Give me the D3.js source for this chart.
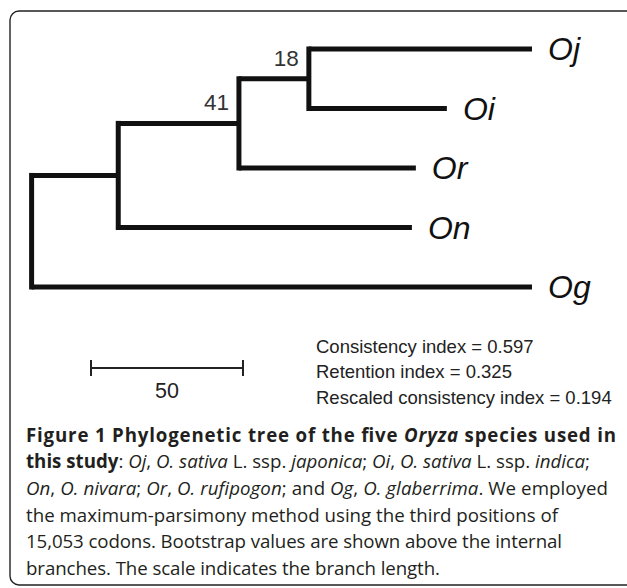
<!DOCTYPE html>
<html>
<head>
<meta charset="utf-8">
<script src="https://cdn.jsdelivr.net/npm/d3@7"></script>
<style>
    html, body { margin: 0; padding: 0; background: #fff; }
    svg { display: block; }
</style>
</head>
<body>
<svg id="viz_tree"></svg>
<script>
// tree: node names, parent of each node, branch length to parent
var nodeNames = ["root", "A", "B", "C", "Oj", "Oi", "Or", "On", "Og"];
var parentNames = [null, "root", "A", "B", "C", "C", "B", "A", "root"];
var branchLengths = [0, 28.5, 39.7, 23, 73.4, 45.4, 58.2, 96.6, 164.6];

// bootstrap values over internal branches
var bootNodes = ["B", "C"];
var bootValues = [41, 18];

var scaleLength = 50;

var stats = [
    "Consistency index = 0.597",
    "Retention index = 0.325",
    "Rescaled consistency index = 0.194"
];

// caption, one array per line: [text, bold, italic]
var captionLines = [
    [["Figure 1 Phylogenetic tree of the five ", 1, 0], ["Oryza", 1, 1], [" species used in", 1, 0]],
    [["this study", 1, 0], [": ", 0, 0], ["Oj", 0, 1], [", ", 0, 0], ["O. sativa", 0, 1], [" L. ssp. ", 0, 0],
     ["japonica", 0, 1], ["; ", 0, 0], ["Oi", 0, 1], [", ", 0, 0], ["O. sativa", 0, 1], [" L. ssp. ", 0, 0],
     ["indica", 0, 1], [";", 0, 0]],
    [["On", 0, 1], [", ", 0, 0], ["O. nivara", 0, 1], ["; ", 0, 0], ["Or", 0, 1], [", ", 0, 0],
     ["O. rufipogon", 0, 1], ["; and ", 0, 0], ["Og", 0, 1], [", ", 0, 0], ["O. glaberrima", 0, 1],
     [". We employed", 0, 0]],
    [["the maximum-parsimony method using the third positions of", 0, 0]],
    [["15,053 codons. Bootstrap values are shown above the internal", 0, 0]],
    [["branches. The scale indicates the branch length.", 0, 0]]
];

var width = 627, height = 588;

var svg = d3.select("#viz_tree")
    .attr("width", width)
    .attr("height", height);

// frame (open on the right)
var fx = 10, fy = 11, fb = 585, r = 9;
svg.append("path")
    .attr("d", `M${width + 5},${fy} H${fx + r} A${r},${r} 0 0 0 ${fx},${fy + r} V${fb - r} A${r},${r} 0 0 0 ${fx + r},${fb} H${width + 5}`)
    .attr("fill", "none")
    .attr("stroke", "#222")
    .attr("stroke-width", 1.4);

var table = nodeNames.map((n, i) => ({name: n, parent: parentNames[i], len: branchLengths[i]}));

var root = d3.stratify()
    .id(d => d.name)
    .parentId(d => d.parent)(table);

root.each(d => { d.dist = d.parent ? d.parent.dist + d.data.len : 0; });

var leaves = root.leaves().map(d => d.id);

var x = d3.scaleLinear()
    .domain([0, d3.max(root.leaves(), d => d.dist)])
    .range([31.6, 532]);

var y = d3.scalePoint()
    .domain(leaves)
    .range([49, 287]);

root.eachAfter(d => {
    d.py = d.children ? d3.mean(d.children, c => c.py) : y(d.id);
    d.px = x(d.dist);
});

var lw = 5;
var g = svg.append("g");

// horizontal branches
g.selectAll("line.h")
    .data(root.descendants().filter(d => d.parent))
    .enter()
    .append("line")
        .attr("class", "h")
        .attr("x1", d => d.parent.px)
        .attr("x2", d => d.px)
        .attr("y1", d => d.py)
        .attr("y2", d => d.py)
        .attr("stroke", "#111")
        .attr("stroke-width", lw);

// vertical connectors
g.selectAll("line.v")
    .data(root.descendants().filter(d => d.children))
    .enter()
    .append("line")
        .attr("class", "v")
        .attr("x1", d => d.px)
        .attr("x2", d => d.px)
        .attr("y1", d => d.children[0].py)
        .attr("y2", d => d.children[d.children.length - 1].py)
        .attr("stroke", "#111")
        .attr("stroke-width", lw)
        .attr("stroke-linecap", "square");

// taxon labels
g.selectAll("text.taxon")
    .data(root.leaves())
    .enter()
    .append("text")
        .attr("class", "taxon")
        .attr("x", d => d.px + 16)
        .attr("y", d => d.py + 11)
        .attr("font-family", "Liberation Sans, Arial, sans-serif")
        .attr("font-style", "italic")
        .attr("font-size", 32)
        .attr("fill", "#111")
        .text(d => d.id);

// bootstrap values
g.selectAll("text.boot")
    .data(bootNodes.map((n, i) => ({node: root.find(d => d.id === n), value: bootValues[i]})))
    .enter()
    .append("text")
        .attr("class", "boot")
        .attr("x", d => d.node.px - 10)
        .attr("y", d => d.node.py - 13)
        .attr("text-anchor", "end")
        .attr("font-family", "Liberation Sans, Arial, sans-serif")
        .attr("font-size", 22.5)
        .attr("fill", "#333")
        .text(d => d.value);

// scale bar
var sx0 = 91, sy = 368;
var sx1 = sx0 + x(scaleLength) - x(0);
var sb = svg.append("g")
    .attr("stroke", "#222")
    .attr("stroke-width", 2);
sb.append("line").attr("x1", sx0).attr("x2", sx1).attr("y1", sy).attr("y2", sy);
sb.append("line").attr("x1", sx0).attr("x2", sx0).attr("y1", sy - 8).attr("y2", sy + 8);
sb.append("line").attr("x1", sx1).attr("x2", sx1).attr("y1", sy - 8).attr("y2", sy + 8);

svg.append("text")
    .attr("x", (sx0 + sx1) / 2)
    .attr("y", 398)
    .attr("text-anchor", "middle")
    .attr("font-family", "Liberation Sans, Arial, sans-serif")
    .attr("font-size", 21.5)
    .attr("fill", "#222")
    .text(scaleLength);

svg.append("g")
    .selectAll("text")
    .data(stats)
    .enter()
    .append("text")
        .attr("x", 316)
        .attr("y", (d, i) => [353, 378, 404][i])
        .attr("font-family", "Liberation Sans, Arial, sans-serif")
        .attr("font-size", 18.5)
        .attr("fill", "#222")
        .text(d => d);

// caption
var capFont = "Open Sans, Lato, sans-serif";
var capY = [442, 468, 495, 522, 548, 575];
var capW = [590, 564, 582, 532, 536, 414];
var cap = svg.append("g")
    .attr("font-family", capFont)
    .attr("fill", "#231f20");

var capText = cap.selectAll("text")
    .data(captionLines)
    .enter()
    .append("text")
        .attr("x", 26)
        .attr("y", (d, i) => capY[i])
        .attr("font-size", 16);

capText.selectAll("tspan")
    .data(d => d)
    .enter()
    .append("tspan")
        .attr("font-weight", d => d[1] ? "bold" : "normal")
        .attr("font-style", d => d[2] ? "italic" : "normal")
        .text(d => d[0]);

// fit font size to the line "the maximum-parsimony..." then stretch each line to its width
var w4 = capText.filter((d, i) => i === 3).node().getComputedTextLength();
capText.attr("font-size", 16 * 532 / w4)
    .attr("textLength", (d, i) => capW[i])
    .attr("lengthAdjust", "spacing");
</script>
</body>
</html>
